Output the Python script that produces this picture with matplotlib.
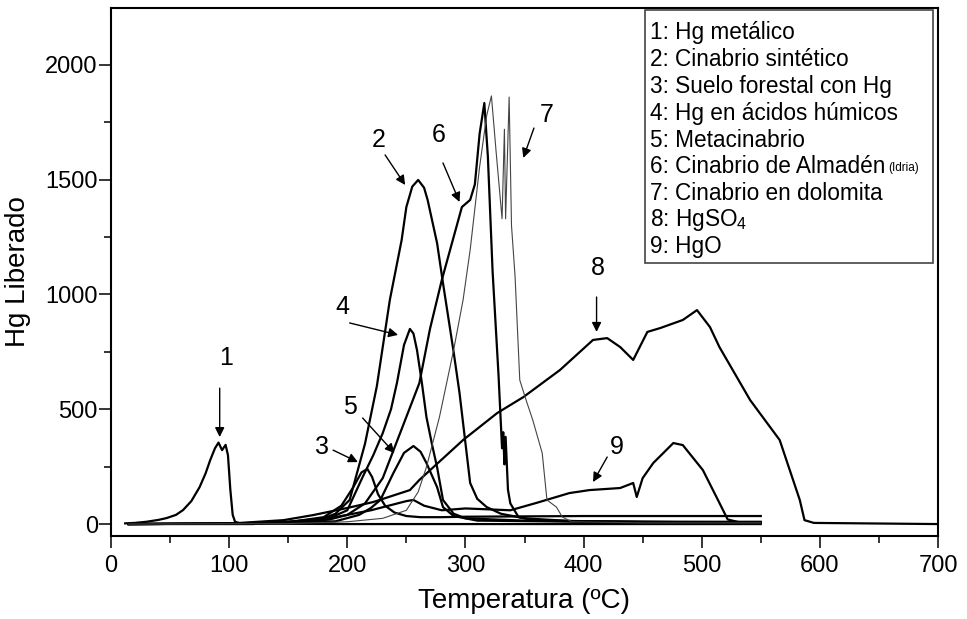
#!/usr/bin/python3
# -*- coding: utf-8 -*-

'''
Liberación térmica de Hg por especie
'''

import matplotlib
matplotlib.use('Agg')
import matplotlib.pyplot as plt
from matplotlib.patches import Rectangle
from matplotlib.text import Annotation
from matplotlib.ticker import MultipleLocator

# 1: Hg metálico
x1 = [12, 20, 30, 40, 47, 55, 61, 68, 75, 80, 84, 88, 91, 94, 97, 99, 101, 103, 105, 110, 200, 400, 550]
y1 = [3, 5, 10, 18, 26, 40, 61, 100, 161, 220, 279, 330, 355, 322, 345, 300, 150, 40, 10, 2, 0, 0, 0]
# 2: Cinabrio sintético
x2 = [15, 100, 150, 180, 190, 202, 215, 225, 236, 246, 250, 255, 260, 265, 268, 276, 281, 290, 295, 304,
      310, 318, 330, 350, 400, 550]
y2 = [0, 2, 10, 25, 45, 105, 350, 600, 976, 1237, 1381, 1470, 1499, 1465, 1412, 1224, 1050, 750, 571, 179,
      110, 74, 45, 25, 10, 5]
# 3: Suelo forestal con Hg
x3 = [15, 100, 150, 180, 195, 205, 212, 217, 221, 226, 232, 240, 250, 262, 280, 300, 400, 550]
y3 = [0, 2, 8, 30, 80, 160, 225, 240, 205, 130, 80, 50, 35, 30, 30, 32, 35, 35]
# 4: Hg en ácidos húmicos
x4 = [15, 100, 150, 180, 200, 213, 222, 230, 237, 242, 248, 253, 256, 259, 263, 267, 272, 276, 281, 290,
      300, 350, 450, 550]
y4 = [0, 2, 5, 15, 60, 205, 300, 396, 500, 614, 780, 850, 830, 758, 620, 466, 340, 248, 105, 45,
      25, 15, 10, 10]
# 5: Metacinabrio
x5 = [15, 100, 150, 190, 210, 220, 228, 239, 248, 256, 262, 267, 276, 281, 290, 310, 400, 550]
y5 = [0, 2, 5, 12, 40, 70, 105, 222, 310, 340, 315, 266, 161, 74, 35, 15, 10, 8]
# 6: Cinabrio de Almadén
x6 = [15, 100, 150, 185, 200, 215, 230, 245, 261, 270, 280, 287, 297, 304, 308, 312, 316, 319, 323, 328,
      331, 332, 333, 334, 336, 338, 345, 360, 450, 550]
y6 = [0, 2, 8, 20, 40, 90, 200, 400, 614, 850, 1063, 1194, 1381, 1412, 1480, 1700, 1834, 1600, 1100, 650,
      330, 400, 260, 380, 150, 90, 30, 15, 10, 5]
# 7: Cinabrio en dolomita
x7 = [15, 150, 200, 230, 250, 260, 267, 278, 290, 298, 304, 312, 318, 322, 326, 331, 333, 334, 337, 339,
      342, 346, 352, 357, 365, 369, 377, 382, 390, 450, 550]
y7 = [0, 2, 10, 25, 60, 140, 248, 466, 758, 976, 1194, 1556, 1780, 1865, 1620, 1330, 1720, 1330, 1860, 1300,
      1080, 627, 530, 453, 309, 105, 74, 31, 10, 5, 5]
# 8: HgSO4
x8 = [15, 100, 146, 171, 200, 222, 253, 261, 298, 327, 349, 380, 408, 420, 431, 442, 454, 465, 484, 496,
      507, 515, 541, 566, 583, 587, 595, 700]
y8 = [0, 2, 17, 39, 70, 96, 148, 192, 366, 484, 553, 671, 802, 810, 771, 715, 837, 854, 889, 932,
      858, 771, 540, 366, 105, 17, 5, 0]
# 9: HgO
x9 = [15, 120, 180, 220, 250, 256, 265, 280, 300, 320, 338, 360, 388, 405, 431, 442, 445, 450, 459, 476,
      484, 501, 515, 522, 530]
y9 = [0, 0, 20, 60, 100, 105, 80, 60, 68, 64, 60, 92, 135, 148, 157, 179, 118, 200, 266, 353,
      344, 235, 92, 20, 10]

LEGEND = ['1: Hg metálico', '2: Cinabrio sintético', '3: Suelo forestal con Hg',
          '4: Hg en ácidos húmicos', '5: Metacinabrio', '6: Cinabrio de Almadén',
          '7: Cinabrio en dolomita', '8: HgSO$_{4}$', '9: HgO']

# label, text position, arrow start, arrow end
LABELS = [('1', (97.5, 723), (92, 592), (92, 379)),
          ('2', (227, 1673), (232, 1608), (249, 1477)),
          ('3', (179, 336), (188, 322), (209, 270)),
          ('4', (196, 946), (202, 876), (243, 824)),
          ('5', (202, 510), (213, 462), (240, 309)),
          ('6', (277, 1695), (281, 1573), (295, 1403)),
          ('7', (369, 1782), (358, 1725), (349, 1595)),
          ('8', (412, 1115), (411, 989), (411, 837)),
          ('9', (428, 336), (420, 292), (408, 183))]


def main():
    '''
    Main function
    '''
    plt.rcParams['font.family'] = ['Liberation Sans', 'DejaVu Sans']
    plt.rcParams['mathtext.default'] = 'regular'

    fig = plt.figure(figsize=(9.67, 6.19), dpi=100)
    ax = fig.add_axes([111 / 967, 1 - 536 / 619, 827 / 967, 528 / 619])

    for xs, ys in [(x1, y1), (x2, y2), (x3, y3), (x4, y4), (x5, y5),
                   (x6, y6), (x8, y8), (x9, y9)]:
        ax.plot(xs, ys, color='black', lw=1.6)
    ax.plot(x7, y7, color='#444444', lw=0.8)

    for lab, txt, start, end in LABELS:
        ax.text(txt[0], txt[1], lab, fontsize=18, ha='center', va='center')
        ax.annotate('', xy=end, xytext=start,
                    arrowprops=dict(arrowstyle='-|>', color='black', lw=1,
                                    mutation_scale=14, shrinkA=0, shrinkB=0))

    ax.set_xlim(0, 700)
    ax.set_ylim(-52, 2248)
    ax.xaxis.set_major_locator(MultipleLocator(100))
    ax.xaxis.set_minor_locator(MultipleLocator(50))
    ax.yaxis.set_major_locator(MultipleLocator(500))
    ax.yaxis.set_minor_locator(MultipleLocator(250))
    ax.tick_params(which='major', direction='out', length=8.5, width=1.1, labelsize=17)
    ax.tick_params(which='minor', direction='out', length=5, width=1.1)
    ax.tick_params(axis='y', pad=1)
    ax.tick_params(axis='x', pad=5)
    for spine in ax.spines.values():
        spine.set_linewidth(1.5)

    ax.set_xlabel('Temperatura (ºC)', fontsize=20, labelpad=8)
    ax.set_ylabel('Hg Liberado', fontsize=20, labelpad=10)

    # Legend box drawn by hand
    fig.patches.append(Rectangle((645 / 967, 1 - 263 / 619), 288 / 967, 253 / 619,
                                 transform=fig.transFigure, fill=True, fc='white',
                                 ec='#444444', lw=1.2, zorder=5))
    texts = []
    for i, line in enumerate(LEGEND):
        texts.append(fig.text(650 / 967, 1 - (33 + 26.75 * i) / 619, line, fontsize=16.3,
                              ha='left', va='center', zorder=6))
    # small note after "Almadén"
    note = Annotation('(Idria)', xy=(1, 0.45), xycoords=texts[5], xytext=(2, 0),
                      textcoords='offset points', fontsize=8.5, ha='left', va='center')
    note.set_zorder(6)
    fig.add_artist(note)

    fig.savefig('out.png', dpi=100)


if __name__ == '__main__':
    main()
